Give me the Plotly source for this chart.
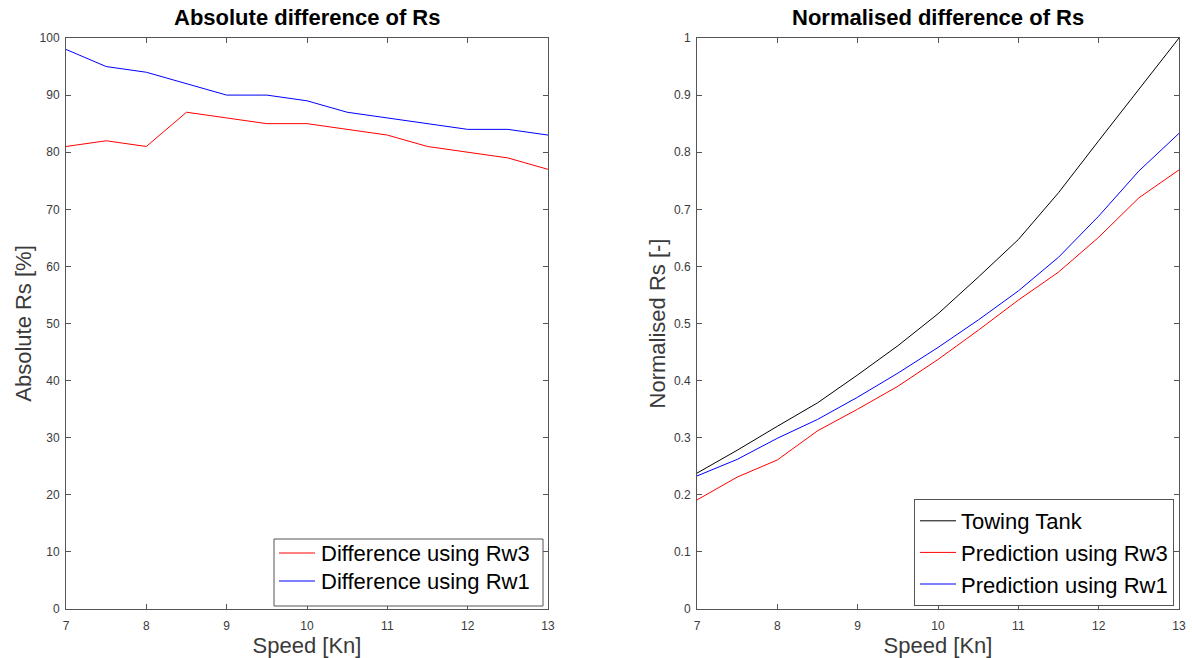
import plotly.graph_objects as go

speed = [7, 7.5, 8, 8.5, 9, 9.5, 10, 10.5, 11, 11.5, 12, 12.5, 13]

# Left: absolute difference [%]
diff_rw3 = [81, 82, 81, 87, 86, 85, 85, 84, 83, 81, 80, 79, 77]
diff_rw1 = [98, 95, 94, 92, 90, 90, 89, 87, 86, 85, 84, 84, 83]

# Right: normalised Rs [-]
towing_tank = [0.238, 0.278, 0.32, 0.361, 0.41, 0.461, 0.517, 0.581, 0.647, 0.729, 0.82, 0.91, 1.0]
pred_rw3 = [0.191, 0.231, 0.261, 0.312, 0.35, 0.39, 0.437, 0.488, 0.541, 0.59, 0.651, 0.72, 0.769]
pred_rw1 = [0.233, 0.262, 0.299, 0.332, 0.371, 0.413, 0.458, 0.506, 0.557, 0.616, 0.688, 0.767, 0.833]

left_names = ["Difference using Rw3", "Difference using Rw1"]
right_names = ["Towing Tank", "Prediction using Rw3", "Prediction using Rw1"]

left_yticks = list(range(0, 101, 10))
right_yticks = [0, 0.1, 0.2, 0.3, 0.4, 0.5, 0.6, 0.7, 0.8, 0.9, 1]
right_ylabels = ["0", "0.1", "0.2", "0.3", "0.4", "0.5", "0.6", "0.7", "0.8", "0.9", "1"]
xticks = [7, 8, 9, 10, 11, 12, 13]

FONT = "Liberation Sans, Arial, Helvetica, sans-serif"
AX = "#555555"
TXT = "#3a3a3a"
RED, BLUE, BLACK = "#ff0000", "#0000ff", "#000000"

fig = go.Figure()
# left subplot (its legend box is drawn below as shapes + text)
fig.add_trace(go.Scatter(x=speed, y=diff_rw3, mode="lines", name=left_names[0],
                         line=dict(color=RED, width=1), xaxis="x", yaxis="y", showlegend=False))
fig.add_trace(go.Scatter(x=speed, y=diff_rw1, mode="lines", name=left_names[1],
                         line=dict(color=BLUE, width=1), xaxis="x", yaxis="y", showlegend=False))
# right subplot (plotly legend)
fig.add_trace(go.Scatter(x=speed, y=towing_tank, mode="lines", name=right_names[0],
                         line=dict(color=BLACK, width=1), xaxis="x2", yaxis="y2"))
fig.add_trace(go.Scatter(x=speed, y=pred_rw3, mode="lines", name=right_names[1],
                         line=dict(color=RED, width=1), xaxis="x2", yaxis="y2"))
fig.add_trace(go.Scatter(x=speed, y=pred_rw1, mode="lines", name=right_names[2],
                         line=dict(color=BLUE, width=1), xaxis="x2", yaxis="y2"))

W, H = 1192, 658
def px(v): return v / W
def py(v): return 1 - v / H

axis_common = dict(showline=True, linecolor=AX, linewidth=1, mirror="ticks", ticks="inside",
                   ticklen=5, tickcolor=AX, showgrid=False, zeroline=False, automargin=False,
                   tickfont=dict(family=FONT, size=12, color=TXT))
title_font = dict(family=FONT, size=22, color=TXT)

# left legend box (drawn in paper coordinates)
box_l, box_r, box_t, box_b = 274, 543, 539, 606
rows = [553, 581]
row_colors = [RED, BLUE]
shapes = [dict(type="rect", xref="paper", yref="paper", x0=px(box_l), x1=px(box_r),
               y0=py(box_b), y1=py(box_t), line=dict(color=AX, width=1),
               fillcolor="white", layer="above")]
annotations = []
for name, color, ry in zip(left_names, row_colors, rows):
    shapes.append(dict(type="line", xref="paper", yref="paper", x0=px(box_l + 5), x1=px(box_l + 41),
                       y0=py(ry), y1=py(ry), line=dict(color=color, width=1), layer="above"))
    annotations.append(dict(text=name, x=px(box_l + 45), y=py(ry), xref="paper", yref="paper",
                            showarrow=False, xanchor="left", yanchor="middle",
                            font=dict(family=FONT, size=22, color="#000000")))

annotations += [
    dict(text="<b>Absolute difference of Rs</b>", x=(px(66) + px(548)) / 2, y=py(17),
         xref="paper", yref="paper", showarrow=False, xanchor="center", yanchor="middle",
         font=dict(family=FONT, size=22, color="#000000")),
    dict(text="<b>Normalised difference of Rs</b>", x=(px(697) + px(1179)) / 2, y=py(17),
         xref="paper", yref="paper", showarrow=False, xanchor="center", yanchor="middle",
         font=dict(family=FONT, size=22, color="#000000")),
]

fig.update_layout(
    width=W, height=H,
    margin=dict(l=0, r=0, t=0, b=0),
    paper_bgcolor="white", plot_bgcolor="white",
    showlegend=True,
    xaxis=dict(domain=[px(66), px(548)], range=[7, 13], tickvals=xticks, anchor="y",
               ticklabelstandoff=6,
               title=dict(text="Speed [Kn]", font=title_font, standoff=3),
               **axis_common),
    yaxis=dict(domain=[py(609), py(38)], range=[0, 100], tickvals=left_yticks, anchor="x",
               ticklabelstandoff=3,
               title=dict(text="Absolute Rs [%]", font=title_font, standoff=1),
               **axis_common),
    xaxis2=dict(domain=[px(697), px(1179)], range=[7, 13], tickvals=xticks, anchor="y2",
                ticklabelstandoff=6,
                title=dict(text="Speed [Kn]", font=title_font, standoff=3),
                **axis_common),
    yaxis2=dict(domain=[py(609), py(38)], range=[0, 1], tickvals=right_yticks, ticktext=right_ylabels,
                anchor="x2", ticklabelstandoff=3,
                title=dict(text="Normalised Rs [-]", font=title_font, standoff=2),
                **axis_common),
    legend=dict(x=px(1174), y=py(606), xanchor="right", yanchor="bottom",
                bgcolor="white", bordercolor=AX, borderwidth=1,
                font=dict(family=FONT, size=22, color="#000000"),
                tracegroupgap=0, itemwidth=36),
    shapes=shapes,
    annotations=annotations,
)

fig.write_html("out.html")
